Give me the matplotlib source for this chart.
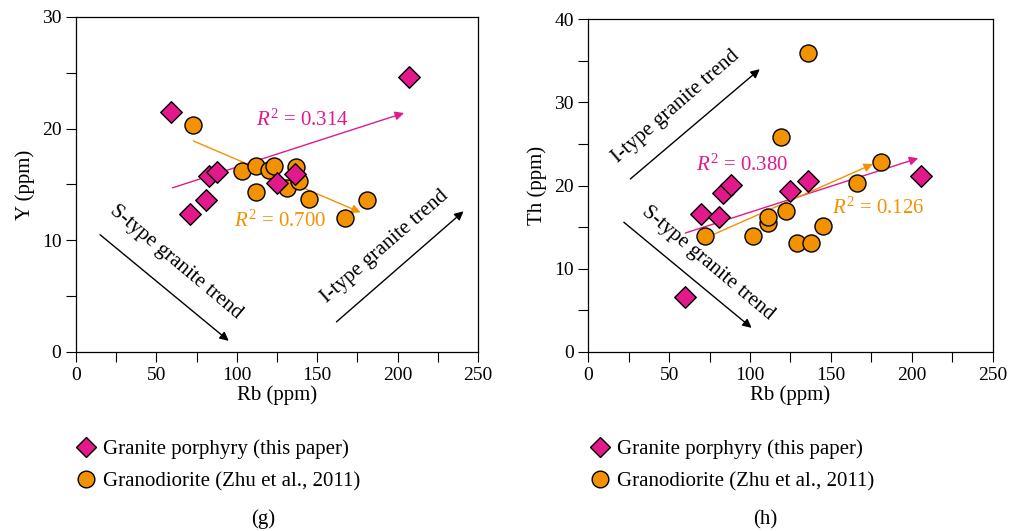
import matplotlib
matplotlib.use("Agg")
import matplotlib.pyplot as plt
from matplotlib.lines import Line2D
from matplotlib.ticker import MultipleLocator

plt.rcParams["font.family"] = ["Liberation Serif", "DejaVu Serif"]
plt.rcParams["mathtext.fontset"] = "custom"
plt.rcParams["mathtext.rm"] = "Liberation Serif"
plt.rcParams["mathtext.it"] = "Liberation Serif:italic"

pink = "#e2198a"
orange = "#f39200"

# (g) Y vs Rb
g_porph_rb = [59, 207, 83, 88, 81, 71, 125, 136]
g_porph_y = [21.5, 24.6, 15.8, 16.1, 13.6, 12.4, 15.1, 15.9]
g_grano_rb = [73, 103, 112, 112, 120, 123, 131, 137, 139, 145, 167, 181]
g_grano_y = [20.3, 16.2, 16.7, 14.3, 16.3, 16.7, 14.7, 16.6, 15.3, 13.7, 12.0, 13.6]
g_fit_porph = [(60, 14.7), (204, 21.4)]
g_fit_grano = [(73, 18.9), (177, 12.5)]

# (h) Th vs Rb
h_porph_rb = [60, 70, 81, 83, 88, 125, 136, 206]
h_porph_th = [6.6, 16.6, 16.2, 19.1, 20.1, 19.3, 20.6, 21.1]
h_grano_rb = [72, 102, 111, 111, 119, 122, 129, 136, 138, 145, 166, 181]
h_grano_th = [14.0, 13.9, 15.5, 16.2, 25.8, 16.9, 13.1, 35.9, 13.1, 15.1, 20.3, 22.9]
h_fit_porph = [(60, 14.3), (204, 23.3)]
h_fit_grano = [(77, 14.1), (176, 22.6)]


def arrow(ax, p0, p1, color, lw=1.0):
    ax.annotate("", xy=p1, xytext=p0,
                arrowprops=dict(arrowstyle="-|>", color=color, lw=lw,
                                mutation_scale=13, shrinkA=0, shrinkB=0))


def style(ax, ymax, ylabel):
    ax.set_xlim(0, 250)
    ax.set_ylim(0, ymax)
    ax.xaxis.set_major_locator(MultipleLocator(50))
    ax.xaxis.set_minor_locator(MultipleLocator(25))
    ax.yaxis.set_major_locator(MultipleLocator(10))
    ax.yaxis.set_minor_locator(MultipleLocator(5))
    ax.tick_params(which="both", direction="out", length=7, width=0.8, labelsize=14)
    ax.set_xlabel("Rb (ppm)", fontsize=15, labelpad=1)
    ax.set_ylabel(ylabel, fontsize=15, labelpad=5)
    for s in ax.spines.values():
        s.set_linewidth(0.9)


fig = plt.figure(figsize=(10.09, 5.31), dpi=100)
ax1 = fig.add_axes([0.0753, 0.3371, 0.3984, 0.6309])
ax2 = fig.add_axes([0.5830, 0.3371, 0.4008, 0.6266])

# panel g
arrow(ax1, *g_fit_porph, pink)
arrow(ax1, *g_fit_grano, orange)
ax1.scatter(g_grano_rb, g_grano_y, s=150, c=orange, edgecolors="black", linewidths=1, zorder=3)
ax1.scatter(g_porph_rb, g_porph_y, s=120, marker="D", c=pink, edgecolors="black", linewidths=1, zorder=4)
ax1.text(141, 20.8, r"$R^2$ = 0.314", color=pink, fontsize=15, ha="center", va="center")
ax1.text(127, 11.7, r"$R^2$ = 0.700", color=orange, fontsize=15, ha="center", va="center")
arrow(ax1, (15, 10.5), (95, 1.0), "black")
arrow(ax1, (162, 2.7), (241, 12.6), "black")
ax1.text(62, 8.0, "S-type granite trend", fontsize=15, rotation=-40, ha="center", va="center",
         rotation_mode="anchor")
ax1.text(192, 9.4, "I-type granite trend", fontsize=15, rotation=41, ha="center", va="center",
         rotation_mode="anchor")
style(ax1, 30, "Y (ppm)")

# panel h
arrow(ax2, *h_fit_porph, pink)
arrow(ax2, *h_fit_grano, orange)
ax2.scatter(h_grano_rb, h_grano_th, s=150, c=orange, edgecolors="black", linewidths=1, zorder=3)
ax2.scatter(h_porph_rb, h_porph_th, s=120, marker="D", c=pink, edgecolors="black", linewidths=1, zorder=4)
ax2.text(95, 22.5, r"$R^2$ = 0.380", color=pink, fontsize=15, ha="center", va="center")
ax2.text(179, 17.3, r"$R^2$ = 0.126", color=orange, fontsize=15, ha="center", va="center")
arrow(ax2, (26, 20.8), (106, 34.0), "black")
arrow(ax2, (22, 15.6), (101, 2.9), "black")
ax2.text(54, 29.5, "I-type granite trend", fontsize=15, rotation=41, ha="center", va="center",
         rotation_mode="anchor")
ax2.text(74, 10.7, "S-type granite trend", fontsize=15, rotation=-40, ha="center", va="center",
         rotation_mode="anchor")
style(ax2, 40, "Th (ppm)")

handles = [
    Line2D([], [], ls="none", marker="D", ms=10, mfc=pink, mec="black", mew=1,
           label="Granite porphyry (this paper)"),
    Line2D([], [], ls="none", marker="o", ms=12, mfc=orange, mec="black", mew=1,
           label="Granodiorite (Zhu et al., 2011)"),
]
for x0 in [0.065, 0.574]:
    fig.legend(handles=handles, loc="upper left", bbox_to_anchor=(x0, 0.188), frameon=False,
               fontsize=15, handletextpad=0.2, labelspacing=0.6, borderaxespad=0, handlelength=1.2)
for x, lab in [(0.261, "(g)"), (0.758, "(h)")]:
    fig.text(x, 0.003, lab, fontsize=15, ha="center", va="bottom")

fig.savefig("out.png", dpi=100)
